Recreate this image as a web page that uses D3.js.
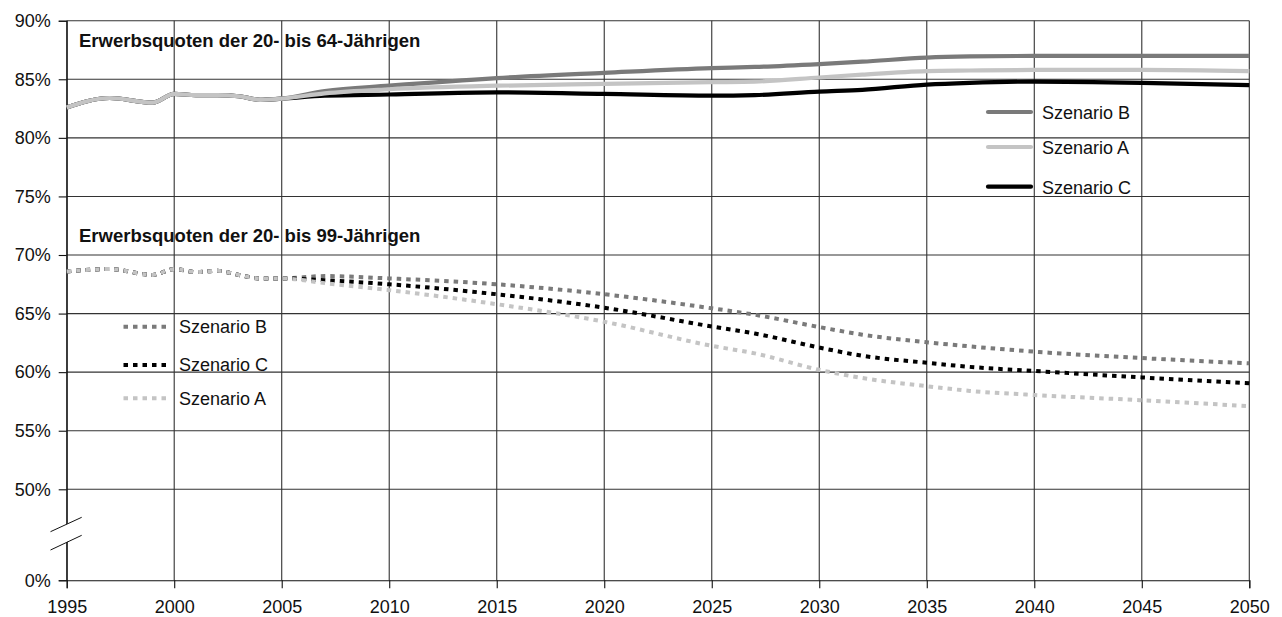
<!DOCTYPE html>
<html>
<head>
<meta charset="utf-8">
<script src="https://cdn.jsdelivr.net/npm/d3@7"></script>
<style>
  body { margin: 0; background: #fff; }
  svg { font-family: "Liberation Sans", Arial, Helvetica, sans-serif; }
</style>
</head>
<body>
<svg width="1282" height="617"></svg>
<script>
// Daten
var histYears = [1995, 1997, 1999, 2000, 2001, 2002, 2003, 2004, 2005];
var projYears = [2007, 2010, 2015, 2020, 2025, 2027, 2030, 2032, 2035, 2037, 2040, 2045, 2050];

// 20- bis 64-Jährige
var hist64 = [82.6, 83.4, 83.0, 83.75, 83.65, 83.65, 83.55, 83.25, 83.35];
var b64 = [84.0, 84.45, 85.1, 85.55, 85.95, 86.05, 86.3, 86.5, 86.85, 86.95, 87.0, 87.0, 87.0];
var a64 = [83.8, 84.15, 84.45, 84.6, 84.75, 84.8, 85.15, 85.4, 85.7, 85.75, 85.8, 85.8, 85.7];
var c64 = [83.6, 83.7, 83.88, 83.75, 83.6, 83.65, 83.95, 84.1, 84.55, 84.7, 84.8, 84.7, 84.5];

// 20- bis 99-Jährige
var hist99 = [68.6, 68.8, 68.3, 68.8, 68.55, 68.65, 68.3, 68.0, 68.0];
var b99 = [68.2, 68.0, 67.5, 66.65, 65.45, 64.9, 63.85, 63.2, 62.55, 62.2, 61.75, 61.2, 60.75];
var c99 = [67.85, 67.5, 66.65, 65.5, 63.9, 63.3, 62.1, 61.4, 60.8, 60.45, 60.1, 59.55, 59.05];
var a99 = [67.6, 67.0, 65.8, 64.3, 62.25, 61.6, 60.2, 59.5, 58.8, 58.4, 58.05, 57.6, 57.1];

var xTicks = [1995, 2000, 2005, 2010, 2015, 2020, 2025, 2030, 2035, 2040, 2045, 2050];
var yTicks = [0, 50, 55, 60, 65, 70, 75, 80, 85, 90];
var yGrid = [50, 55, 60, 65, 70, 75, 80, 85, 90];

var svg = d3.select('svg');

var x = d3.scaleLinear().domain([1995, 2050]).range([66.7, 1249.3]);
// gebrochene Achse: 0 bis 50 gestaucht
var y = d3.scaleLinear().domain([0, 50, 90]).range([580.3, 489.3, 20.7]);

function series(hist, proj) {
  var years = histYears.concat(projYears);
  var vals = hist.concat(proj);
  return years.map(function(yr, i) { return {year: yr, v: vals[i]}; });
}

var line = d3.line()
  .curve(d3.curveMonotoneX)
  .x(function(d) { return x(d.year); })
  .y(function(d) { return y(d.v); });

// Gitter
svg.append('g').selectAll('line')
  .data(yGrid)
  .enter().append('line')
  .attr('x1', x(1995)).attr('x2', x(2050))
  .attr('y1', function(d) { return y(d); })
  .attr('y2', function(d) { return y(d); })
  .attr('stroke', '#333').attr('stroke-width', 1.1);

svg.append('g').selectAll('line')
  .data(xTicks)
  .enter().append('line')
  .attr('x1', function(d) { return x(d); })
  .attr('x2', function(d) { return x(d); })
  .attr('y1', y(90)).attr('y2', y(0))
  .attr('stroke', '#333').attr('stroke-width', 1.1);

// Achsen
var xAxis = svg.append('g')
  .attr('transform', 'translate(0,' + y(0) + ')')
  .call(d3.axisBottom(x).tickValues(xTicks).tickFormat(d3.format('d')).tickSize(8).tickPadding(8));
var yAxis = svg.append('g')
  .attr('transform', 'translate(' + x(1995) + ',0)')
  .call(d3.axisLeft(y).tickValues(yTicks).tickFormat(function(d) { return d + '%'; }).tickSize(8).tickPadding(8));

[xAxis, yAxis].forEach(function(a) {
  a.select('.domain').attr('stroke', '#111').attr('stroke-width', 1.1);
  a.selectAll('.tick line').attr('stroke', '#111').attr('stroke-width', 1.1);
  a.selectAll('text').attr('fill', '#111').attr('font-size', 18)
    .attr('font-family', '"Liberation Sans", Arial, Helvetica, sans-serif');
});
xAxis.selectAll('text').attr('dy', '0.95em');

// Achsenbruch
svg.append('polygon')
  .attr('points', '50,532 82,517 82,535 50,550')
  .attr('fill', '#fff');
svg.append('line')
  .attr('x1', 50.5).attr('y1', 531.7).attr('x2', 81.7).attr('y2', 517.3)
  .attr('stroke', '#111').attr('stroke-width', 1);
svg.append('line')
  .attr('x1', 50.5).attr('y1', 550).attr('x2', 81.7).attr('y2', 535.3)
  .attr('stroke', '#111').attr('stroke-width', 1);

// Linien 20-64 (durchgezogen)
var solid = [
  {name: 'Szenario C', data: series(hist64, c64), color: '#000'},
  {name: 'Szenario B', data: series(hist64, b64), color: '#7a7a7a'},
  {name: 'Szenario A', data: series(hist64, a64), color: '#c4c4c4'}
];
solid.forEach(function(s) {
  svg.append('path')
    .attr('d', line(s.data))
    .attr('fill', 'none')
    .attr('stroke', s.color)
    .attr('stroke-width', 4.2);
});

// Linien 20-99 (gepunktet)
var dotted = [
  {name: 'Szenario B', data: series(hist99, b99), color: '#7a7a7a'},
  {name: 'Szenario C', data: series(hist99, c99), color: '#000'},
  {name: 'Szenario A', data: series(hist99, a99), color: '#c4c4c4'}
];
dotted.forEach(function(s) {
  svg.append('path')
    .attr('d', line(s.data))
    .attr('fill', 'none')
    .attr('stroke', s.color)
    .attr('stroke-width', 4)
    .attr('stroke-dasharray', '4.5,5');
});

// Titel
svg.append('text')
  .attr('x', 79).attr('y', 47)
  .attr('font-size', 18.5).attr('font-weight', 'bold').attr('fill', '#111')
  .text('Erwerbsquoten der 20- bis 64-Jährigen');
svg.append('text')
  .attr('x', 79).attr('y', 241.5)
  .attr('font-size', 18.5).attr('font-weight', 'bold').attr('fill', '#111')
  .text('Erwerbsquoten der 20- bis 99-Jährigen');

// Legende oben
var legTop = [
  {name: 'Szenario B', color: '#7a7a7a', ly: 112},
  {name: 'Szenario A', color: '#c4c4c4', ly: 147},
  {name: 'Szenario C', color: '#000', ly: 186.7}
];
legTop.forEach(function(l) {
  svg.append('line')
    .attr('x1', 988).attr('x2', 1031)
    .attr('y1', l.ly).attr('y2', l.ly)
    .attr('stroke', l.color).attr('stroke-width', 4.2)
    .attr('stroke-linecap', 'round');
  svg.append('text')
    .attr('x', 1042).attr('y', l.ly + 0.5)
    .attr('dy', '0.35em')
    .attr('font-size', 18).attr('fill', '#111')
    .text(l.name);
});

// Legende unten
var legBottom = [
  {name: 'Szenario B', color: '#7a7a7a', ly: 326.7},
  {name: 'Szenario C', color: '#000', ly: 365},
  {name: 'Szenario A', color: '#c4c4c4', ly: 398.3}
];
legBottom.forEach(function(l) {
  svg.append('line')
    .attr('x1', 123.5).attr('x2', 168.5)
    .attr('y1', l.ly).attr('y2', l.ly)
    .attr('stroke', l.color).attr('stroke-width', 4)
    .attr('stroke-dasharray', '4.5,5');
  svg.append('text')
    .attr('x', 179).attr('y', l.ly)
    .attr('dy', '0.35em')
    .attr('font-size', 18).attr('fill', '#111')
    .text(l.name);
});
</script>
</body>
</html>
